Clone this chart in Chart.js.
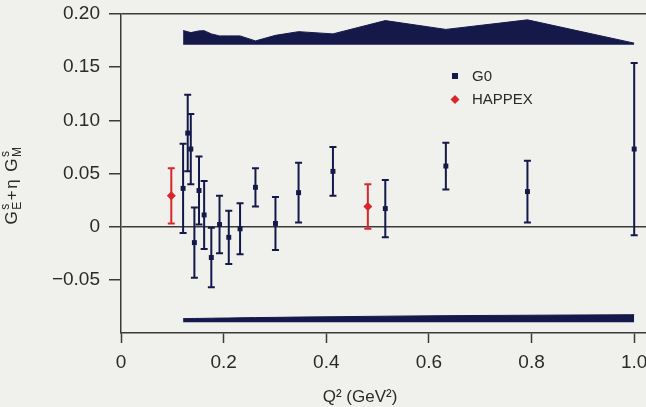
<!DOCTYPE html>
<html>
<head>
<meta charset="utf-8">
<script src="https://cdn.jsdelivr.net/npm/chart.js@4.4.1/dist/chart.umd.min.js"></script>
<style>
  html, body { margin: 0; padding: 0; background: #f0f0ed; }
  #wrap { width: 646px; height: 407px; }
</style>
</head>
<body>
<div id="wrap"><canvas id="chart" width="646" height="407"></canvas></div>
<script>
// G0 - pontos medidos
const goQ2  = [0.121, 0.130, 0.136, 0.143, 0.152, 0.162, 0.176, 0.192, 0.210, 0.232, 0.262, 0.301, 0.346, 0.413, 0.515, 0.633, 0.792, 1.000];
const goVal = [0.036, 0.088, 0.073, -0.015, 0.034, 0.011, -0.029, 0.002, -0.010, -0.002, 0.037, 0.003, 0.032, 0.052, 0.017, 0.057, 0.033, 0.073];
const goErr = [0.042, 0.036, 0.033, 0.033, 0.032, 0.032, 0.028, 0.027, 0.025, 0.024, 0.018, 0.025, 0.028, 0.023, 0.027, 0.022, 0.029, 0.081];

// HAPPEX
const happexQ2  = [0.098, 0.481];
const happexVal = [0.029, 0.019];
const happexErr = [0.026, 0.021];

// faixas de erro sistemático (topo e base)
const sysTopBase = 0.171;
const sysTop = [0.1844, 0.1834, 0.1825, 0.1832, 0.1841, 0.1843, 0.1813, 0.1794, 0.1794, 0.1794, 0.1747, 0.1799, 0.1834, 0.1813, 0.1938, 0.1855, 0.1945, 0.1726];
const sysBottomBase = -0.0898;
const sysBottom = [-0.0865, -0.0864, -0.0864, -0.0863, -0.0863, -0.0862, -0.0861, -0.0860, -0.0859, -0.0857, -0.0855, -0.0853, -0.0850, -0.0847, -0.0842, -0.0837, -0.0833, -0.0828];

// eixos
const xTicks = [0, 0.2, 0.4, 0.6, 0.8, 1.0];
const xTickLabels = ['0', '0.2', '0.4', '0.6', '0.8', '1.0'];
const yTicks = [-0.05, 0, 0.05, 0.10, 0.15, 0.20];
const yTickLabels = ['\u22120.05', '0', '0.05', '0.10', '0.15', '0.20'];

const navy = '#15194a';
const red = '#d8262c';
const axisColor = '#3a3a3a';
const textColor = '#2a2a2a';

Chart.defaults.font.family = "'Liberation Sans', Arial, sans-serif";
Chart.defaults.color = textColor;

// barras de erro
const errorBars = {
    id: 'errorBars',
    beforeDatasetsDraw(chart) {
        const ctx = chart.ctx;
        const y = chart.scales.y;
        chart.data.datasets.forEach((ds, di) => {
            if (!ds.errors) return;
            const meta = chart.getDatasetMeta(di);
            ctx.save();
            ctx.strokeStyle = ds.borderColor;
            ctx.lineWidth = 2;
            meta.data.forEach((pt, i) => {
                const v = ds.data[i].y;
                const e = ds.errors[i];
                const top = y.getPixelForValue(v + e);
                const bot = y.getPixelForValue(v - e);
                ctx.beginPath();
                ctx.moveTo(pt.x, top);
                ctx.lineTo(pt.x, bot);
                ctx.moveTo(pt.x - 3.5, top);
                ctx.lineTo(pt.x + 3.5, top);
                ctx.moveTo(pt.x - 3.5, bot);
                ctx.lineTo(pt.x + 3.5, bot);
                ctx.stroke();
            });
            ctx.restore();
        });
    }
};

// títulos e legenda
const labels = {
    id: 'labels',
    afterDraw(chart) {
        const ctx = chart.ctx;
        ctx.save();
        ctx.fillStyle = textColor;

        // legenda
        ctx.font = "15px 'Liberation Sans Narrow', 'Liberation Sans', sans-serif";
        ctx.textBaseline = 'middle';
        ctx.fillStyle = navy;
        ctx.fillRect(452, 73, 6, 6);
        ctx.fillStyle = red;
        ctx.beginPath();
        ctx.moveTo(455, 95); ctx.lineTo(459.5, 99.5); ctx.lineTo(455, 104); ctx.lineTo(450.5, 99.5);
        ctx.closePath();
        ctx.fill();
        ctx.fillStyle = textColor;
        ctx.fillText('G0', 472, 77);
        ctx.fillText('HAPPEX', 472, 100);

        // título do eixo x
        ctx.font = "17px 'Liberation Sans Narrow', 'Liberation Sans', sans-serif";
        ctx.textAlign = 'center';
        ctx.fillText('Q\u00b2 (GeV\u00b2)', 360, 397);

        // título do eixo y
        ctx.translate(17, 185);
        ctx.rotate(-Math.PI / 2);
        ctx.textAlign = 'left';
        ctx.textBaseline = 'alphabetic';
        const big = "17px 'Liberation Sans', sans-serif";
        const small = "12px 'Liberation Sans', sans-serif";
        const parts = [
            ['G', big, 0], ['E', small, 4, 's', -8], ['+', big, 0], ['\u03b7', big, 0], [' ', big, 0], ['G', big, 0], ['M', small, 4, 's', -8]
        ];
        let w = 0;
        parts.forEach(p => { ctx.font = p[1]; w += ctx.measureText(p[0]).width + 1.5; });
        let x = -w / 2;
        parts.forEach(p => {
            ctx.font = p[1];
            ctx.fillText(p[0], x, p[2]);
            if (p[3]) ctx.fillText(p[3], x, p[4]);
            x += ctx.measureText(p[0]).width + 1.5;
        });
        ctx.restore();
    }
};

const ctx = document.getElementById('chart').getContext('2d');
new Chart(ctx, {
    type: 'scatter',
    data: {
        datasets: [
            {
                label: 'G0',
                data: goQ2.map((q, i) => ({ x: q, y: goVal[i] })),
                errors: goErr,
                pointStyle: 'rect',
                pointRadius: 3.5,
                backgroundColor: navy,
                borderColor: navy,
                borderWidth: 0
            },
            {
                label: 'HAPPEX',
                data: happexQ2.map((q, i) => ({ x: q, y: happexVal[i] })),
                errors: happexErr,
                pointStyle: 'rectRot',
                pointRadius: 4.5,
                backgroundColor: red,
                borderColor: red,
                borderWidth: 0
            },
            {
                type: 'line',
                label: 'sys top',
                data: goQ2.map((q, i) => ({ x: q, y: sysTop[i] })),
                fill: { value: sysTopBase },
                showLine: true,
                pointRadius: 0,
                borderWidth: 1,
                borderColor: navy,
                backgroundColor: navy,
                tension: 0
            },
            {
                type: 'line',
                label: 'sys bottom',
                data: goQ2.map((q, i) => ({ x: q, y: sysBottom[i] })),
                fill: { value: sysBottomBase },
                showLine: true,
                pointRadius: 0,
                borderWidth: 1,
                borderColor: navy,
                backgroundColor: navy,
                tension: 0
            }
        ]
    },
    options: {
        responsive: false,
        animation: false,
        devicePixelRatio: 1,
        layout: { autoPadding: false, padding: { top: 14, right: 0, left: 0, bottom: 0 } },
        plugins: {
            legend: { display: false },
            tooltip: { enabled: false }
        },
        scales: {
            x: {
                type: 'linear',
                min: 0,
                max: 1.023,
                afterBuildTicks: s => { s.ticks = xTicks.map(v => ({ value: v })); },
                afterFit: s => { s.height = 74; s.paddingLeft = 0; s.paddingRight = 0; },
                border: { display: true, color: axisColor, width: 1.5 },
                grid: { drawOnChartArea: false, drawTicks: true, tickLength: 10, tickColor: axisColor, tickWidth: 1.5 },
                ticks: {
                    padding: 8,
                    maxRotation: 0,
                    font: { size: 19 },
                    color: textColor,
                    callback: (v, i) => xTickLabels[i]
                }
            },
            y: {
                min: -0.1,
                max: 0.2,
                afterBuildTicks: s => { s.ticks = yTicks.map(v => ({ value: v })); },
                afterFit: s => { s.width = 121; s.paddingTop = 0; s.paddingBottom = 0; },
                border: { display: true, color: axisColor, width: 1.5 },
                grid: {
                    color: c => (c.tick && (c.tick.value === 0 || c.tick.value === 0.2)) ? axisColor : 'rgba(0,0,0,0)',
                    lineWidth: 1.5,
                    drawTicks: true,
                    tickLength: 12,
                    tickColor: axisColor,
                    tickWidth: 1.5
                },
                ticks: {
                    padding: 9,
                    font: { size: 19 },
                    color: textColor,
                    callback: (v, i) => yTickLabels[i]
                }
            }
        }
    },
    plugins: [errorBars, labels]
});
</script>
</body>
</html>
